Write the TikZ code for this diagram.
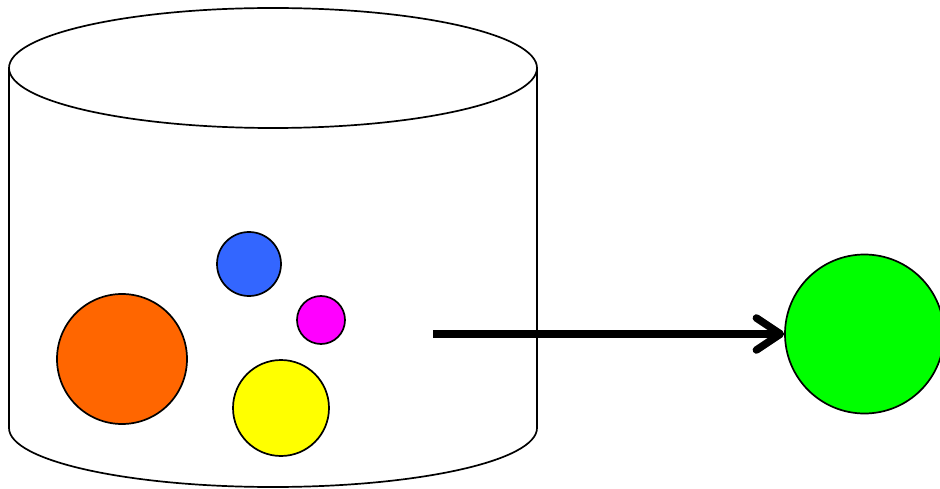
\documentclass[tikz,border=0pt]{standalone}
\usetikzlibrary{arrows.meta}
\definecolor{orangeball}{HTML}{FF6600}
\definecolor{blueball}{HTML}{3366FF}
\definecolor{magball}{HTML}{FF00FF}
\definecolor{yelball}{HTML}{FFFF00}
\definecolor{greenball}{HTML}{00FF00}
\tikzset{
  ball/.style={circle, draw=black, line width=1.7pt, inner sep=0pt},
  outline/.style={draw=black, line width=1.7pt},
  bigarrow/.style={line width=7.5pt, -{Straight Barb[length=24pt,width=32pt,line cap=round,line join=round]}},
}
\begin{document}
\begin{tikzpicture}[x=1pt,y=-1pt]
\useasboundingbox (0,0) rectangle (940,489);
\clip (0,0) rectangle (940,489);
% cylinder body
\path[fill=white, outline] (9,68) -- (9,428) arc[start angle=180, end angle=0, x radius=264, y radius=59] -- (537,68);
\draw[outline] (273,68) ellipse[x radius=264, y radius=60];
% balls
\node[ball, fill=orangeball, minimum size=130pt] (orange) at (122,359) {};
\node[ball, fill=blueball, minimum size=64pt] (blue) at (249,264) {};
\node[ball, fill=magball, minimum size=48pt] (magenta) at (321,320) {};
\node[ball, fill=yelball, minimum size=96pt] (yellow) at (281,408) {};
\node[ball, fill=greenball, minimum size=159pt] (green) at (864.5,334) {};
% arrow
\coordinate (start) at (433,334);
\draw[bigarrow, black!40, opacity=0.35, shift={(2pt,-4pt)}] (start) -- (green.west);
\draw[bigarrow] (start) -- (green.west);
\end{tikzpicture}
\end{document}
